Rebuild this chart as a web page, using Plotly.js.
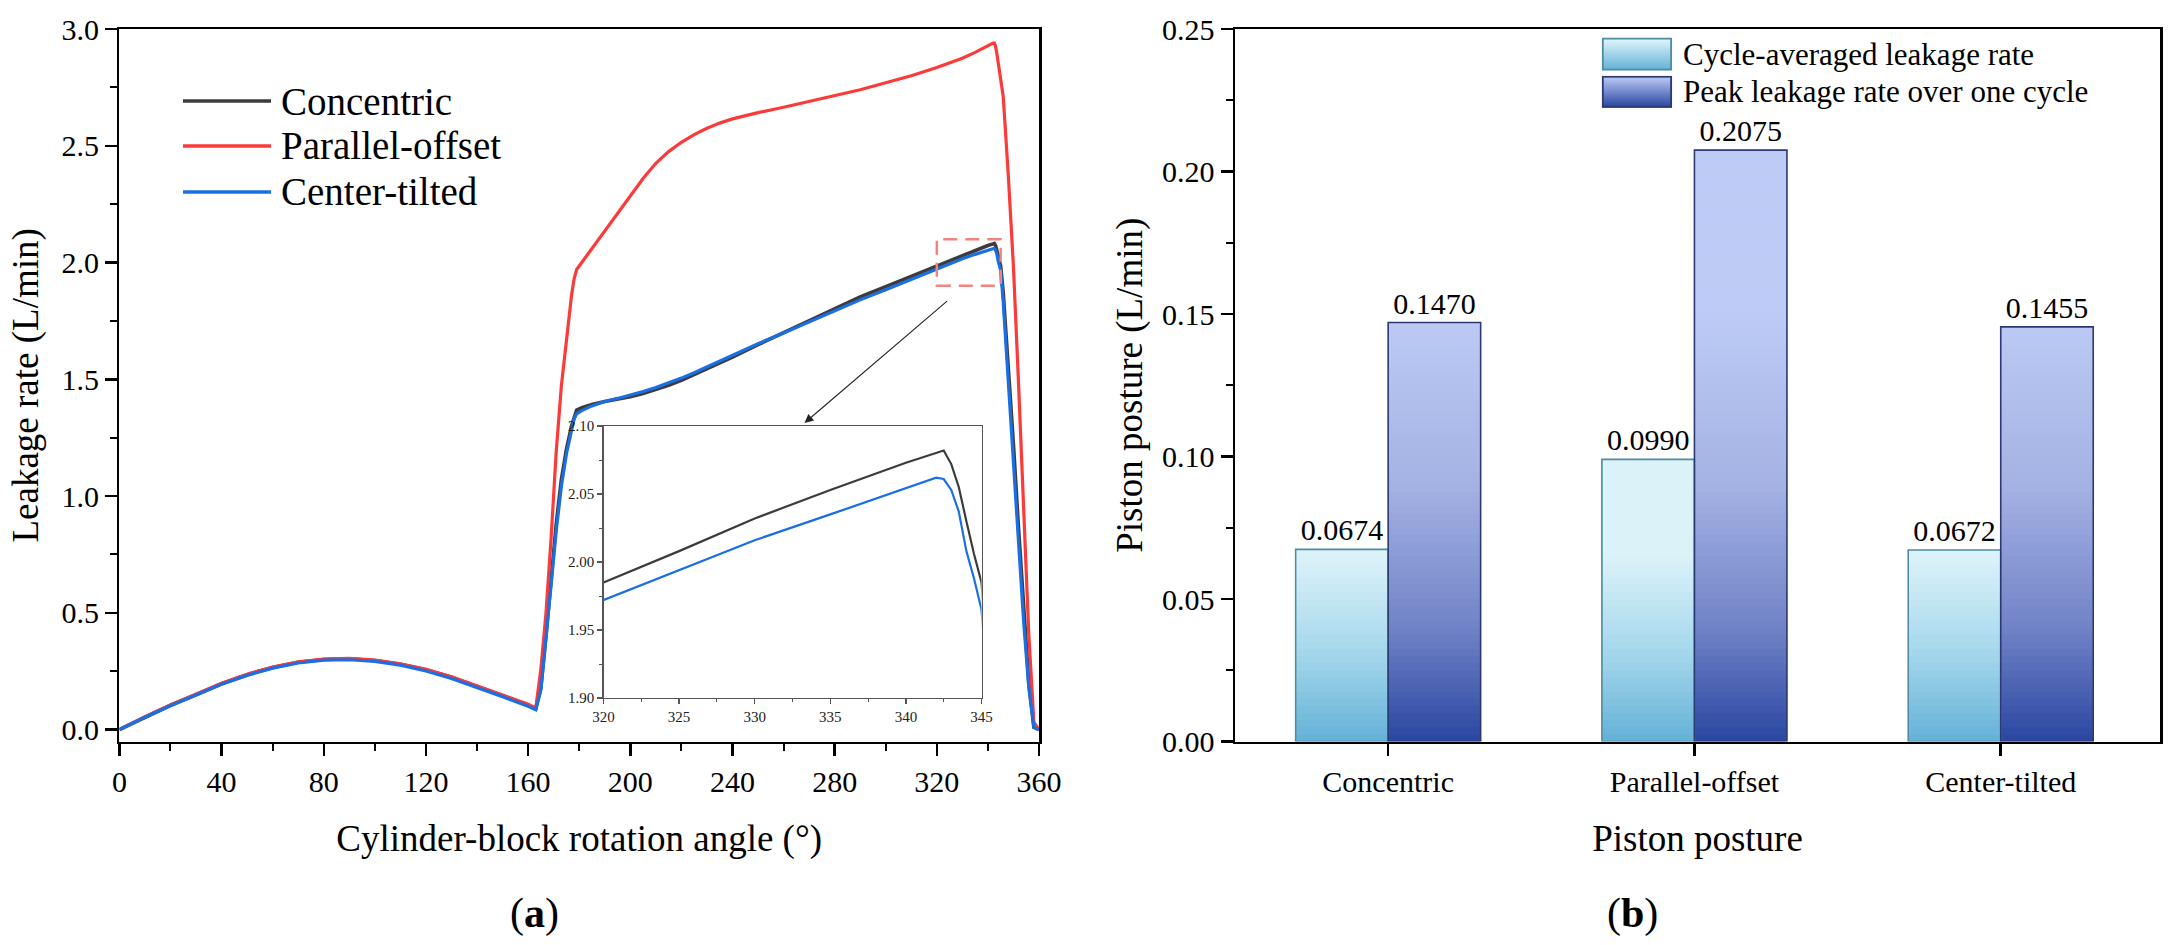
<!DOCTYPE html>
<html><head><meta charset="utf-8">
<script src="https://cdn.plot.ly/plotly-3.0.1.min.js"></script>
<style>html,body{margin:0;padding:0;background:#fff}#chart{width:2173px;height:945px}</style>
</head><body><div id="chart"></div>
<script>
// ---------- data ----------
const angle = [0,10,20,30,40,50,60,70,80,90,100,110,120,130,140,150,160,
  163,165,167,169,171,173,175,177,178,179,181,185,190,195,200,205,210,215,220,225,230,235,240,
  250,260,270,280,290,300,310,320,
  325,330,335,340,342,342.5,343,343.5,344,344.5,345,
  346,348,350,352,354,356,358,360];
const concentric = [0,0.054,0.104,0.149,0.196,0.235,0.266,0.288,0.300,0.303,0.296,0.280,0.256,0.224,0.186,0.146,0.106,
  0.090,0.18,0.40,0.65,0.88,1.07,1.20,1.30,1.34,1.368,1.378,1.392,1.405,1.414,1.425,1.439,1.455,1.474,1.495,1.519,1.545,1.570,1.595,
  1.648,1.700,1.752,1.803,1.853,1.897,1.942,1.985,
  2.008,2.032,2.053,2.073,2.080,2.082,2.072,2.055,2.030,2.006,1.985,
  1.87,1.56,1.22,0.86,0.50,0.20,0.01,0];
const parallelOffset = [0,0.055,0.105,0.150,0.198,0.237,0.268,0.290,0.302,0.305,0.298,0.282,0.258,0.226,0.188,0.148,0.108,
  0.092,0.26,0.50,0.82,1.19,1.47,1.68,1.86,1.93,1.97,2.00,2.06,2.135,2.21,2.285,2.36,2.425,2.475,2.515,2.548,2.575,2.597,2.615,
  2.642,2.665,2.69,2.715,2.74,2.77,2.80,2.835,
  2.855,2.875,2.90,2.93,2.94,2.94,2.925,2.895,2.86,2.82,2.78,
  2.71,2.37,1.98,1.48,0.92,0.41,0.03,0];
const centerTilted = [0,0.053,0.102,0.147,0.194,0.232,0.263,0.285,0.297,0.299,0.292,0.276,0.251,0.219,0.181,0.141,0.100,
  0.085,0.17,0.38,0.62,0.85,1.04,1.18,1.29,1.33,1.352,1.366,1.386,1.405,1.418,1.432,1.448,1.465,1.484,1.505,1.528,1.553,1.578,1.602,
  1.652,1.698,1.745,1.792,1.840,1.883,1.928,1.972,
  1.994,2.016,2.035,2.054,2.062,2.061,2.053,2.037,2.008,1.988,1.965,
  1.83,1.47,1.13,0.80,0.46,0.18,0.01,0];
const lineNames = ['Concentric','Parallel-offset','Center-tilted'];

const postures = ['Concentric','Parallel-offset','Center-tilted'];
const avgLeak = [0.0674, 0.0990, 0.0672];
const peakLeak = [0.1470, 0.2075, 0.1455];
const barNames = ['Cycle-averaged leakage rate','Peak leakage rate over one cycle'];

const insetX = [320, 345];
const insetY = [1.90, 2.10];

// ---------- helpers ----------
const W = 2173, H = 945;
const fx = p => p / W;
const fy = p => 1 - p / H;
const FONT = 'Liberation Serif, Times New Roman, serif';

function hex2rgb(h){return [1,3,5].map(i=>parseInt(h.substr(i,2),16));}
function lerpColor(stops, v){
  if (v <= stops[0][0]) return stops[0][1];
  for (let i=1;i<stops.length;i++){
    if (v <= stops[i][0]){
      const t=(v-stops[i-1][0])/(stops[i][0]-stops[i-1][0]);
      const a=hex2rgb(stops[i-1][1]), b=hex2rgb(stops[i][1]);
      const c=a.map((x,j)=>Math.round(x+(b[j]-x)*t));
      return 'rgb('+c.join(',')+')';
    }
  }
  return stops[stops.length-1][1];
}

const colBlack = '#3c3c3c', colRed = '#fb3a3a', colBlue = '#1b6fe3';
const lineCols = [colBlack, colRed, colBlue];
const lineData = [concentric, parallelOffset, centerTilted];

const traces = [];
// main curves (black, red, blue -> blue on top)
[0,1,2].forEach(i=>{
  traces.push({x: angle, y: lineData[i], type:'scatter', mode:'lines', name: lineNames[i],
    line:{color: lineCols[i], width: i===0?3.6:3.2}, xaxis:'x', yaxis:'y', showlegend:false, hoverinfo:'skip'});
});
// inset curves (black & blue)
[0,2].forEach(i=>{
  traces.push({x: angle, y: lineData[i], type:'scatter', mode:'lines', name: lineNames[i]+' (zoom)',
    line:{color: lineCols[i], width: 2.2}, xaxis:'x3', yaxis:'y3', showlegend:false, hoverinfo:'skip'});
});

// bars with vertical gradient (overlapping band segments, each drawn from its band up to bar top)
const barW = 0.302;
const avgStops = [[0,'#63b1d7'],[0.03,'#a3d6eb'],[0.065,'#dbf2f9'],[1,'#e3f6fb']];
const peakStops = [[0,'#2a46a1'],[0.04,'#7183c7'],[0.09,'#a4b2e4'],[0.15,'#bdcbf5'],[1,'#bac9f9']];
const bandH = 0.0025;
function gradientBars(vals, offset, stops){
  const maxV = Math.max(...vals);
  const nb = Math.ceil(maxV / bandH);
  for (let k=0;k<nb;k++){
    const lo = k*bandH;
    traces.push({type:'bar', x: postures, y: vals.map(v=>Math.max(0, v-lo)), base: lo,
      offset: offset, width: barW, xaxis:'x2', yaxis:'y2',
      marker:{color: lerpColor(stops, lo+bandH/2), line:{width:0}},
      showlegend:false, hoverinfo:'skip'});
  }
}
gradientBars(avgLeak, -barW, avgStops);
gradientBars(peakLeak, 0, peakStops);
// outlines + value labels
traces.push({type:'bar', x: postures, y: avgLeak, offset:-barW, width:barW, xaxis:'x2', yaxis:'y2',
  name: barNames[0], marker:{color:'rgba(0,0,0,0)', line:{color:'#4f8ba2', width:1.6}},
  texttemplate:'%{y:.4f}', textposition:'outside', cliponaxis:false,
  textfont:{family:FONT, size:30, color:'#000'}, showlegend:false});
traces.push({type:'bar', x: postures, y: peakLeak, offset:0, width:barW, xaxis:'x2', yaxis:'y2',
  name: barNames[1], marker:{color:'rgba(0,0,0,0)', line:{color:'#2b3a72', width:1.6}},
  texttemplate:'%{y:.4f}', textposition:'outside', cliponaxis:false,
  textfont:{family:FONT, size:30, color:'#000'}, showlegend:false});

// ---------- axes ----------
function axisBase(extra){
  return Object.assign({showline:true, linecolor:'#000', linewidth:2.5, mirror:true,
    ticks:'outside', ticklen:12, tickwidth:2.5, tickcolor:'#000',
    tickfont:{family:FONT, size:30, color:'#000'}, showgrid:false, zeroline:false,
    automargin:false, fixedrange:true}, extra);
}
const layout = {
  width: W, height: H, margin:{l:0,r:0,t:0,b:0}, paper_bgcolor:'#fff', plot_bgcolor:'#fff',
  barmode:'overlay', showlegend:false, font:{family:FONT, color:'#000'},
  xaxis: axisBase({domain:[fx(119.4), fx(1039)], anchor:'y', range:[0,360], tick0:0, dtick:40,
    minor:{ticks:'outside', ticklen:7, tickwidth:2, dtick:20, tickcolor:'#000'},
    title:{text:'Cylinder-block rotation angle (°)', font:{family:FONT, size:37, color:'#000'}, standoff:28}}),
  yaxis: axisBase({domain:[fy(741.7), fy(29)], anchor:'x', range:[-0.052,3.0], tick0:0, dtick:0.5, tickformat:'.1f',
    minor:{ticks:'outside', ticklen:7, tickwidth:2, dtick:0.25, tickcolor:'#000'},
    title:{text:'Leakage rate (L/min)', font:{family:FONT, size:37, color:'#000'}, standoff:12}}),
  xaxis2: axisBase({domain:[fx(1235), fx(2160)], anchor:'y2', type:'category', range:[-0.5,2.52],
    title:{text:'Piston posture', font:{family:FONT, size:37, color:'#000'}, standoff:28}}),
  yaxis2: axisBase({domain:[fy(741.5), fy(29)], anchor:'x2', range:[0,0.25], tick0:0, dtick:0.05, tickformat:'.2f',
    minor:{ticks:'outside', ticklen:7, tickwidth:2, dtick:0.025, tickcolor:'#000'},
    title:{text:'Piston posture (L/min)', font:{family:FONT, size:37, color:'#000'}, standoff:8}}),
  xaxis3: axisBase({domain:[fx(603.5), fx(981.5)], anchor:'y3', range:insetX, tick0:320, dtick:5,
    linecolor:'#555', linewidth:1.3, tickcolor:'#555', ticklen:5, tickwidth:1.2,
    tickfont:{family:FONT, size:15, color:'#222'},
    minor:{ticks:'outside', ticklen:3, tickwidth:1, dtick:2.5, tickcolor:'#555'}}),
  yaxis3: axisBase({domain:[fy(698), fy(426)], anchor:'x3', range:insetY, tick0:1.9, dtick:0.05, tickformat:'.2f',
    linecolor:'#555', linewidth:1.3, tickcolor:'#555', ticklen:5, tickwidth:1.2,
    tickfont:{family:FONT, size:15, color:'#222'},
    minor:{ticks:'outside', ticklen:3, tickwidth:1, dtick:0.025, tickcolor:'#555'}}),
  shapes: [
    {type:'rect', xref:'x', yref:'y', x0:insetX[0], x1:insetX[1], y0:insetY[0], y1:insetY[1],
     line:{color:'#f4837f', width:2.5, dash:'14px,8px'}},
  ],
  annotations: [
    {xref:'x', yref:'y', axref:'x', ayref:'y', x:268.2, y:1.313, ax:324.6, ay:1.84, text:'',
     showarrow:true, arrowhead:2, arrowsize:1.6, arrowwidth:1.1, arrowcolor:'#222'},
    {xref:'paper', yref:'paper', x:fx(534), y:fy(913), text:'(<b>a</b>)', showarrow:false,
     xanchor:'center', yanchor:'middle', font:{family:FONT, size:42, color:'#000'}},
    {xref:'paper', yref:'paper', x:fx(1632), y:fy(913), text:'(<b>b</b>)', showarrow:false,
     xanchor:'center', yanchor:'middle', font:{family:FONT, size:42, color:'#000'}},
  ],
  images: []
};

// left legend (manual, long line samples)
const legY = [101, 146, 192];
[0,1,2].forEach(i=>{
  layout.shapes.push({type:'line', xref:'paper', yref:'paper', x0:fx(183), x1:fx(271), y0:fy(legY[i]), y1:fy(legY[i]),
    line:{color: lineCols[i], width:3.5}});
  layout.annotations.push({xref:'paper', yref:'paper', x:fx(279), y:fy(legY[i]), text: lineNames[i], showarrow:false,
    xanchor:'left', yanchor:'middle', font:{family:FONT, size:39, color:'#000'}});
});

// right legend (gradient swatches as small svg images)
function swatch(top, bot, border){
  const svg = "<svg xmlns='http://www.w3.org/2000/svg' width='70' height='33' viewBox='0 0 70 33'>"+
    "<defs><linearGradient id='g' x1='0' y1='0' x2='0' y2='1'><stop offset='0' stop-color='"+top+"'/>"+
    "<stop offset='1' stop-color='"+bot+"'/></linearGradient></defs>"+
    "<rect x='1' y='1' width='68' height='31' fill='url(#g)' stroke='"+border+"' stroke-width='2'/></svg>";
  return 'data:image/svg+xml;charset=utf-8,' + encodeURIComponent(svg);
}
const legRY = [[37.5,70.7],[75.7,107.9]];
const swatchCols = [['#e1f6fb','#63b1d7','#4f8ba2'],['#bccbf6','#2a46a1','#2b3a72']];
[0,1].forEach(i=>{
  layout.images.push({source: swatch(...swatchCols[i]), xref:'paper', yref:'paper',
    x: fx(1601.7), y: fy(legRY[i][0]), sizex: 70.5/W, sizey:(legRY[i][1]-legRY[i][0])/H,
    xanchor:'left', yanchor:'top', sizing:'stretch', layer:'above'});
  layout.annotations.push({xref:'paper', yref:'paper', x:fx(1681), y:fy((legRY[i][0]+legRY[i][1])/2),
    text: barNames[i], showarrow:false, xanchor:'left', yanchor:'middle',
    font:{family:FONT, size:31, color:'#000'}});
});

Plotly.newPlot('chart', traces, layout, {displayModeBar:false, staticPlot:true});
</script>
</body></html>
